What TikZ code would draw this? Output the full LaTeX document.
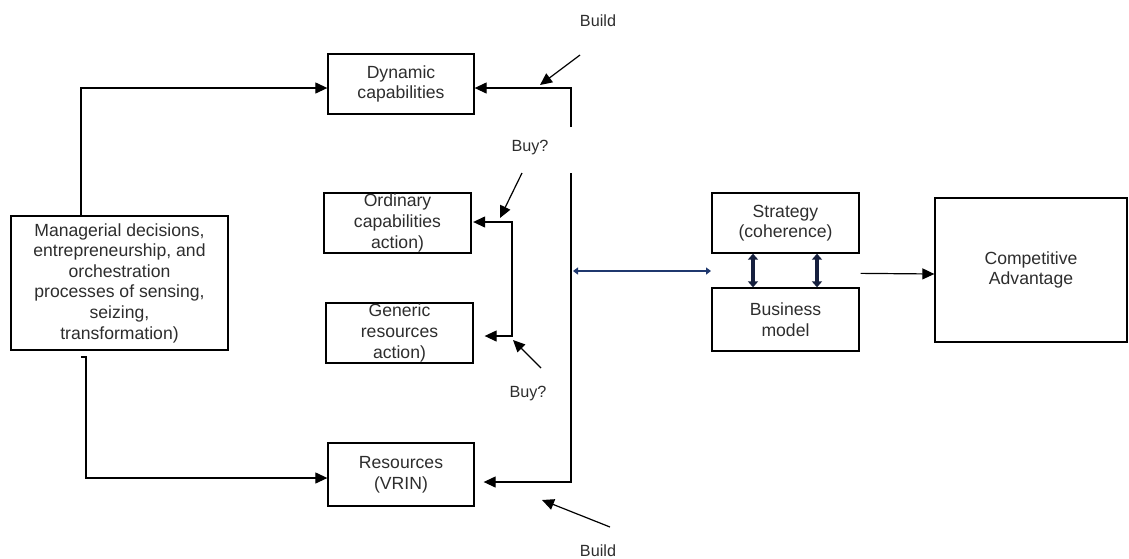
\documentclass[tikz,border=0pt]{standalone}
\usepackage{fontspec}
\setmainfont{Liberation Sans}
\usetikzlibrary{arrows.meta,calc}
\definecolor{navy}{RGB}{31,56,110}
\definecolor{darknavy}{RGB}{22,32,62}
\definecolor{txt}{RGB}{45,45,45}
\begin{document}
\begin{tikzpicture}[x=1pt,y=-1pt,
  box/.style={draw,line width=1.3pt,align=center,inner sep=0pt,text=txt,
    font=\fontsize{17.6}{20.6}\selectfont},
  lbl/.style={font=\fontsize{16.2}{18}\selectfont,inner sep=0pt,text=txt},
  conn/.style={line width=1.2pt},
  arr/.style={conn,-{Triangle[length=12pt,width=11pt]}},
  barr/.style={line width=2.6pt,navy,{Triangle[length=5pt,width=7pt]}-{Triangle[length=5pt,width=7pt]}},
  varr/.style={line width=4pt,darknavy,{Triangle[length=6pt,width=10pt]}-{Triangle[length=6pt,width=10pt]}}]
\useasboundingbox (0,0) rectangle (1129,558);
% boxes
\node[box,minimum width=217pt,minimum height=134pt] (mgr) at (119.5,283)
  {Managerial decisions,\\entrepreneurship, and\\orchestration\\processes of sensing,\\seizing,\\transformation)};
\node[box,minimum width=146pt,minimum height=60pt] (dyn) at (401,84) {Dynamic\\capabilities};
\node[box,minimum width=147pt,minimum height=60pt] (ord) at (397.5,223) {Ordinary\\capabilities\\action)};
\node[box,minimum width=147pt,minimum height=60pt] (gen) at (399.5,333) {Generic\\resources\\action)};
\node[box,minimum width=146pt,minimum height=63pt] (res) at (401,474.5) {Resources\\(VRIN)};
\node[box,minimum width=147pt,minimum height=60pt] (str) at (785.5,223) {Strategy\\(coherence)};
\node[box,minimum width=147pt,minimum height=63pt] (bm) at (785.5,319.5) {Business\\model};
\node[box,minimum width=192pt,minimum height=144pt] (ca) at (1031,270) {Competitive\\Advantage};
% labels
\node[lbl] (build1) at (598,21) {Build};
\node[lbl] (buy1) at (530,148) {Buy?};
\node[lbl] (buy2) at (528,394) {Buy?};
\node[lbl] (build2) at (598,551) {Build};
% junction coordinates
\coordinate (mtop) at (81,216);
\coordinate (mbot) at (81,357);
\coordinate (sptop) at (571,127);
\coordinate (spbot) at (571,173);
\coordinate (brk) at (512,222);
\coordinate (brkb) at (512,336);
\coordinate (a1s) at (580,55);  \coordinate (a1e) at (540,85);
\coordinate (a2s) at (522,173); \coordinate (a2e) at (500,218);
\coordinate (a3s) at (541,368); \coordinate (a3e) at (513,340);
\coordinate (a4s) at (610,527); \coordinate (a4e) at (542,500);
\coordinate (bl) at (573,271);  \coordinate (br) at (711,271);
% connectors
\draw[arr] (mtop) |- ($(dyn.west)+(0,4)$);
\draw[arr] (mbot) -- ++(5,0) |- ($(res.west)+(0,3.5)$);
\draw[arr] (sptop) |- ($(dyn.east)+(0,4)$);
\draw[arr] (spbot) |- ($(res.east)+(9,7.5)$);
\draw[arr] (brkb) -- (brk) -- ($(ord.east)+(1.5,-1)$);
\draw[arr] (brk) -- (brkb) -- ($(gen.east)+(11,3)$);
\draw[arr] (a1s) -- (a1e);
\draw[arr] (a2s) -- (a2e);
\draw[arr] (a3s) -- (a3e);
\draw[arr] (a4s) -- (a4e);
\draw[barr] (bl) -- (br);
\draw[varr] (str.south -| 753,0) -- (bm.north -| 753,0);
\draw[varr] (str.south -| 817,0) -- (bm.north -| 817,0);
\draw[arr] ($(bm.north east)+(1,-14)$) -- ($(ca.west)+(0,4)$);
\end{tikzpicture}
\end{document}
